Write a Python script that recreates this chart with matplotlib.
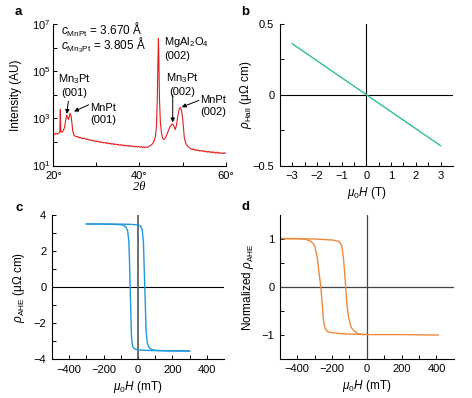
import matplotlib
matplotlib.use("Agg")
import matplotlib.pyplot as plt
from matplotlib.ticker import FixedLocator, FixedFormatter, NullFormatter

plt.rcParams['font.family'] = ['Liberation Sans', 'DejaVu Sans']
plt.rcParams['mathtext.fontset'] = 'custom'
plt.rcParams['mathtext.rm'] = 'Liberation Sans'
plt.rcParams['mathtext.it'] = 'Liberation Sans:italic'
plt.rcParams['mathtext.bf'] = 'Liberation Sans:bold'
plt.rcParams['axes.linewidth'] = 0.8

# ---- panel a: XRD scan (2theta, intensity)
tth = [20.0, 20.3, 20.6, 20.9, 21.2, 21.5, 21.62, 21.75, 22.0, 22.3, 22.6, 22.85,
       23.1, 23.3, 23.5, 23.7, 23.9, 24.1, 24.3, 24.5, 24.8, 25.1, 25.4, 25.7,
       26.0, 26.3, 26.6, 26.9, 27.2, 27.5, 27.8, 28.1, 28.4, 28.7, 29.0, 29.3,
       29.6, 29.9, 30.2, 30.5, 30.8, 31.1, 31.4, 31.7, 32.0, 32.3, 32.6, 32.9,
       33.2, 33.5, 33.8, 34.1, 34.4, 34.7, 35.0, 35.3, 35.6, 35.9, 36.2, 36.5,
       36.8, 37.1, 37.4, 37.7, 38.0, 38.3, 38.6, 38.9, 39.2, 39.5, 39.8, 40.1,
       40.4, 40.7, 41.0, 41.3, 41.6, 41.9, 42.2, 42.5, 42.8, 43.1, 43.4, 43.7,
       43.95, 44.15, 44.3, 44.4, 44.5, 44.65, 44.85, 45.1, 45.4, 45.6, 45.9, 46.2,
       46.5, 46.8, 47.1, 47.4, 47.7, 48.0, 48.3, 48.6, 48.9, 49.2, 49.5, 49.8,
       50.1, 50.4, 50.7, 51.0, 51.3, 51.6, 51.9, 52.2, 52.5, 52.8, 53.1, 53.4,
       53.7, 54.0, 54.3, 54.6, 54.9, 55.2, 55.5, 55.8, 56.1, 56.4, 56.7, 57.0,
       57.3, 57.6, 57.9, 58.2, 58.5, 58.8, 59.1, 59.4, 59.7, 60.0]
intensity = [225, 205, 240, 215, 235, 250, 2400, 280, 260, 300, 420, 800,
             1380, 1150, 910, 1200, 1630, 1350, 700, 300, 190, 178, 165, 172,
             150, 158, 142, 140, 148, 130, 136, 122, 128, 115, 121, 108,
             114, 104, 110, 99, 105, 95, 100, 91, 96, 87, 93, 84,
             89, 81, 86, 78, 83, 76, 80, 73, 78, 71, 76, 69,
             74, 67, 72, 65, 70, 64, 68, 62, 67, 61, 65, 60,
             64, 59, 63, 58, 62, 60, 65, 70, 76, 88, 110, 170,
             500, 8000, 400000, 2500000, 300000, 6000, 700, 250, 140, 126, 140, 175,
             240, 340, 450, 540, 590, 470, 340, 520, 1300, 2400, 3000, 2100,
             700, 160, 93, 75, 64, 57, 52, 48, 51, 45, 48, 43,
             46, 41, 44, 40, 43, 38, 41, 37, 40, 36, 39, 35,
             38, 34, 37, 33, 36, 33, 35, 32, 35, 33]

# ---- panel b: Hall resistivity vs field (T)
hall_field = [-3, -2, -1, 0, 1, 2, 3]
hall_rho = [0.36, 0.24, 0.12, 0.0, -0.12, -0.24, -0.36]

# ---- panel c: AHE loop (mT, uOhm cm), two sweep branches
c_up_field = [-300, -200, -100, -50, 0, 15, 25, 32, 36, 40, 44, 48, 55, 65, 80, 100, 150, 200, 300]
c_up_rho = [3.52, 3.52, 3.51, 3.5, 3.47, 3.4, 3.2, 2.5, 1.2, 0.0, -1.3, -2.5, -3.1, -3.35, -3.45, -3.5, -3.52, -3.53, -3.54]
c_down_field = [300, 200, 100, 50, 0, -20, -30, -37, -41, -45, -49, -53, -60, -70, -85, -100, -150, -200, -300]
c_down_rho = [-3.53, -3.52, -3.51, -3.5, -3.47, -3.42, -3.3, -2.8, -1.5, 0.0, 1.5, 2.6, 3.15, 3.35, 3.45, 3.48, 3.5, 3.51, 3.52]

# ---- panel d: normalized AHE loop (mT)
d_a_field = [-500, -400, -350, -320, -300, -285, -272, -265, -258, -250, -240, -225, -200, -150, -100, 0, 200, 410]
d_a_rho = [1.0, 1.0, 0.98, 0.94, 0.85, 0.6, 0.2, 0.0, -0.3, -0.7, -0.88, -0.94, -0.96, -0.98, -0.99, -1.0, -1.0, -1.01]
d_b_field = [-500, -300, -200, -160, -145, -135, -128, -122, -115, -105, -90, -70, -50, -20]
d_b_rho = [1.0, 0.99, 0.97, 0.94, 0.85, 0.6, 0.3, 0.0, -0.35, -0.65, -0.85, -0.94, -0.98, -1.0]

TICK = 8
LAB = 8.5

fig = plt.figure(figsize=(4.72, 3.98), dpi=100)
ax_a = fig.add_axes([0.113, 0.584, 0.365, 0.355])
ax_b = fig.add_axes([0.593, 0.584, 0.3665, 0.356])
ax_c = fig.add_axes([0.110, 0.097, 0.3644, 0.362])
ax_d = fig.add_axes([0.593, 0.099, 0.3686, 0.362])

for ax in (ax_a, ax_b, ax_c, ax_d):
    ax.spines['top'].set_visible(False)
    ax.spines['right'].set_visible(False)
    ax.tick_params(which='both', direction='in', length=3, width=0.7, labelsize=TICK, pad=4)

# a
ax_a.plot(tth, intensity, color='#e41d1d', lw=0.8)
ax_a.set_yscale('log')
ax_a.set_xlim(20, 60)
ax_a.set_ylim(10, 1e7)
ax_a.xaxis.set_major_locator(FixedLocator([20, 40, 60]))
ax_a.xaxis.set_major_formatter(FixedFormatter(['20°', '40°', '60°']))
ax_a.xaxis.set_minor_locator(FixedLocator([30, 50]))
ax_a.yaxis.set_major_locator(FixedLocator([1e1, 1e3, 1e5, 1e7]))
ax_a.yaxis.set_major_formatter(FixedFormatter(['$10^1$', '$10^3$', '$10^5$', '$10^7$']))
ax_a.yaxis.set_minor_locator(FixedLocator([1e2, 1e4, 1e6]))
ax_a.yaxis.set_minor_formatter(NullFormatter())
ax_a.tick_params(axis='y', pad=2)
ax_a.set_ylabel('Intensity (AU)', fontsize=LAB)
ax_a.yaxis.set_label_coords(-0.183, 0.5)
ax_a.set_xlabel('2θ', fontsize=9, family='Liberation Serif', style='italic', labelpad=0)
ax_a.text(0.045, 0.903, r'$c_{\rm MnPt}$ = 3.670 Å' + '\n' + r'$c_{\rm Mn_3Pt}$ = 3.805 Å',
          transform=ax_a.transAxes, fontsize=8.5, va='center', ha='left', linespacing=0.8)
ax_a.text(0.644, 0.83, 'MgAl$_2$O$_4$\n(002)', transform=ax_a.transAxes, fontsize=TICK, va='center', ha='left', linespacing=1.25)
ax_a.text(0.122, 0.57, 'Mn$_3$Pt\n(001)', transform=ax_a.transAxes, fontsize=TICK, va='center', ha='center', linespacing=1.25)
ax_a.text(0.29, 0.366, 'MnPt\n(001)', transform=ax_a.transAxes, fontsize=TICK, va='center', ha='center', linespacing=1.25)
ax_a.text(0.746, 0.58, 'Mn$_3$Pt\n(002)', transform=ax_a.transAxes, fontsize=TICK, va='center', ha='center', linespacing=1.25)
ax_a.text(0.928, 0.422, 'MnPt\n(002)', transform=ax_a.transAxes, fontsize=TICK, va='center', ha='center', linespacing=1.25)
arrow = dict(arrowstyle='-|>', lw=0.7, color='k', mutation_scale=6, shrinkA=0, shrinkB=0)
ax_a.annotate('', xy=(0.078, 0.366), xytext=(0.087, 0.454), xycoords='axes fraction', arrowprops=arrow)
ax_a.annotate('', xy=(0.120, 0.383), xytext=(0.205, 0.430), xycoords='axes fraction', arrowprops=arrow)
ax_a.annotate('', xy=(0.693, 0.306), xytext=(0.693, 0.501), xycoords='axes fraction', arrowprops=arrow)
ax_a.annotate('', xy=(0.745, 0.414), xytext=(0.845, 0.461), xycoords='axes fraction', arrowprops=arrow)

# b
ax_b.axhline(0, color='k', lw=0.8)
ax_b.axvline(0, color='k', lw=0.8)
ax_b.plot(hall_field, hall_rho, color='#2dbf98', lw=1.0)
ax_b.set_xlim(-3.5, 3.5)
ax_b.set_ylim(-0.5, 0.5)
ax_b.set_xticks([-3, -2, -1, 0, 1, 2, 3])
ax_b.set_xticklabels(['−3', '−2', '−1', '0', '1', '2', '3'])
ax_b.set_xticks([-2.5, -1.5, -0.5, 0.5, 1.5, 2.5], minor=True)
ax_b.set_yticks([-0.5, 0, 0.5])
ax_b.set_yticklabels(['−0.5', '0', '0.5'])
ax_b.set_yticks([-0.25, 0.25], minor=True)
ax_b.set_ylabel(r'$\rho_{\rm Hall}$ (μΩ cm)', fontsize=LAB)
ax_b.yaxis.set_label_coords(-0.150, 0.5)
ax_b.set_xlabel(r'$\mu_0H$ (T)', fontsize=LAB, labelpad=3)

# c
ax_c.axhline(0, color='k', lw=0.8)
ax_c.axvline(0, color='#555555', lw=1.2)
ax_c.plot(c_up_field, c_up_rho, color='#1f98de', lw=1.0)
ax_c.plot(c_down_field, c_down_rho, color='#1f98de', lw=1.0)
ax_c.set_xlim(-500, 500)
ax_c.set_ylim(-4, 4)
ax_c.set_xticks([-400, -200, 0, 200, 400])
ax_c.set_xticklabels(['−400', '−200', '0', '200', '400'])
ax_c.set_xticks([-300, -100, 100, 300], minor=True)
ax_c.set_yticks([-4, -2, 0, 2, 4])
ax_c.set_yticklabels(['−4', '−2', '0', '2', '4'])
ax_c.set_yticks([-3, -1, 1, 3], minor=True)
ax_c.set_ylabel(r'$\rho_{\rm AHE}$ (μΩ cm)', fontsize=LAB)
ax_c.yaxis.set_label_coords(-0.142, 0.5)
ax_c.set_xlabel(r'$\mu_0H$ (mT)', fontsize=LAB, labelpad=3)

# d
ax_d.axhline(0, color='#444444', lw=0.9)
ax_d.axvline(0, color='#444444', lw=0.9)
ax_d.plot(d_a_field, d_a_rho, color='#ee8a3c', lw=1.0)
ax_d.plot(d_b_field, d_b_rho, color='#ee8a3c', lw=1.0)
ax_d.set_xlim(-500, 500)
ax_d.set_ylim(-1.5, 1.5)
ax_d.set_xticks([-400, -200, 0, 200, 400])
ax_d.set_xticklabels(['−400', '−200', '0', '200', '400'])
ax_d.set_xticks([-300, -100, 100, 300], minor=True)
ax_d.set_yticks([-1, 0, 1])
ax_d.set_yticklabels(['−1', '0', '1'])
ax_d.set_yticks([-0.5, 0.5], minor=True)
ax_d.set_ylabel(r'Normalized $\rho_{\rm AHE}$', fontsize=LAB)
ax_d.yaxis.set_label_coords(-0.138, 0.5)
ax_d.set_xlabel(r'$\mu_0H$ (mT)', fontsize=LAB, labelpad=3)

for lbl, x, y in [('a', 15, 12), ('b', 241, 12), ('c', 15, 208), ('d', 241, 207)]:
    fig.text(x / 472, 1 - y / 398, lbl, fontsize=9.5, fontweight='bold', ha='left', va='center')

fig.savefig('out.png', dpi=100)
